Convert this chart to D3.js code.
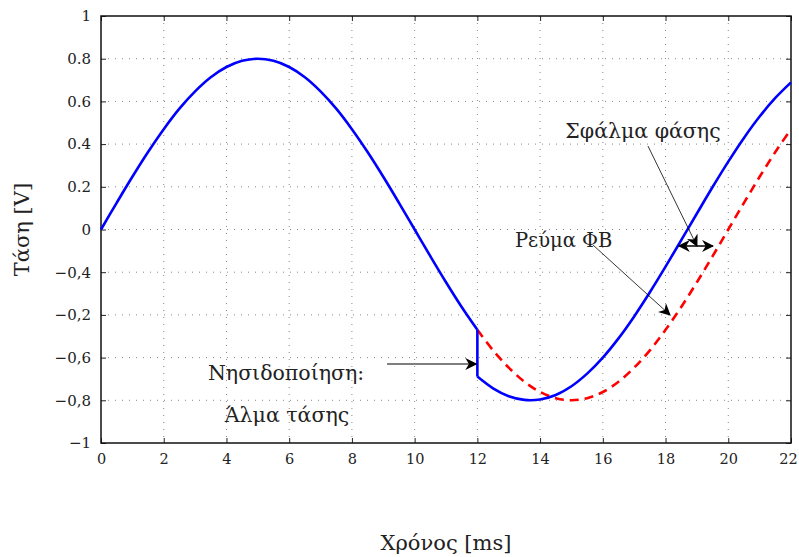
<!DOCTYPE html>
<html>
<head>
<meta charset="utf-8">
<script src="https://cdn.jsdelivr.net/npm/d3@7"></script>
<style>
  body { margin: 0; background: #fff; }
</style>
</head>
<body>
<div id="chart"></div>
<script>
// time axis (ms), sampled every 0.5 ms
const tBefore = [0, 0.5, 1, 1.5, 2, 2.5, 3, 3.5, 4, 4.5, 5, 5.5, 6, 6.5, 7, 7.5, 8, 8.5, 9, 9.5, 10, 10.5, 11, 11.5, 12];
const vBefore = [0, 0.125, 0.247, 0.363, 0.470, 0.566, 0.647, 0.713, 0.761, 0.790, 0.8, 0.790, 0.761, 0.713, 0.647, 0.566, 0.470, 0.363, 0.247, 0.125, 0, -0.125, -0.247, -0.363, -0.470];

const tAfter = [12, 12.5, 13, 13.5, 14, 14.5, 15, 15.5, 16, 16.5, 17, 17.5, 18, 18.5, 19, 19.5, 20, 20.5, 21, 21.5, 22];
// voltage after islanding (jump, phase shifted)
const vAfter = [-0.689, -0.744, -0.781, -0.798, -0.796, -0.775, -0.734, -0.675, -0.600, -0.510, -0.407, -0.294, -0.174, -0.050, 0.075, 0.199, 0.318, 0.429, 0.529, 0.616, 0.689];
// PV current (continues the original waveform)
const iPV = [-0.470, -0.566, -0.647, -0.713, -0.761, -0.790, -0.8, -0.790, -0.761, -0.713, -0.647, -0.566, -0.470, -0.363, -0.247, -0.125, 0, 0.125, 0.247, 0.363, 0.470];

const xTicks = [0, 2, 4, 6, 8, 10, 12, 14, 16, 18, 20, 22];
const yTicks = [1, 0.8, 0.6, 0.4, 0.2, 0, -0.2, -0.4, -0.6, -0.8, -1];
const yTickLabels = ["1", "0.8", "0.6", "0.4", "0.2", "0", "\u22120,4", "\u22120,2", "\u22120,6", "\u22120,8", "\u22121"];

const FONT = "'DejaVu Serif', 'Liberation Serif', serif";

const margin = { top: 16, right: 8, bottom: 114, left: 101 },
    width = 799 - margin.left - margin.right,
    height = 557 - margin.top - margin.bottom;

const svg = d3.select("#chart")
    .append("svg")
    .attr("width", 799)
    .attr("height", 557)
    .append("g")
    .attr("transform", "translate(" + margin.left + "," + margin.top + ")");

const x = d3.scaleLinear().domain([0, 22]).range([0, width]);
const y = d3.scaleLinear().domain([-1, 1]).range([height, 0]);

// grid
svg.append("g").selectAll("line")
    .data(xTicks.slice(1, -1))
    .enter().append("line")
    .attr("x1", d => x(d)).attr("x2", d => x(d))
    .attr("y1", 0).attr("y2", height)
    .attr("stroke", "#888").attr("stroke-width", 1)
    .attr("stroke-dasharray", "1,6");
svg.append("g").selectAll("line")
    .data(yTicks.slice(1, -1))
    .enter().append("line")
    .attr("y1", d => y(d)).attr("y2", d => y(d))
    .attr("x1", 0).attr("x2", width)
    .attr("stroke", "#888").attr("stroke-width", 1)
    .attr("stroke-dasharray", "1,6");

// axes (ticks inward)
svg.append("g")
    .attr("transform", "translate(0," + height + ")")
    .call(d3.axisBottom(x).tickValues(xTicks).tickSize(-5).tickPadding(11).tickFormat(d3.format("d")))
    .call(g => g.select(".domain").remove())
    .call(g => g.selectAll("text").attr("font-size", 14.5).attr("dy", "0.71em"))
    .call(g => g.selectAll("text").filter(d => d === 22).attr("dx", -3));
svg.append("g")
    .call(d3.axisTop(x).tickValues(xTicks).tickSize(-5).tickFormat(""))
    .call(g => g.select(".domain").remove());
svg.append("g")
    .call(d3.axisLeft(y).tickValues(yTicks).tickSize(-5).tickPadding(10)
        .tickFormat((d, i) => yTickLabels[i]))
    .call(g => g.select(".domain").remove())
    .call(g => g.selectAll("text").attr("font-size", 15));
svg.append("g")
    .attr("transform", "translate(" + width + ",0)")
    .call(d3.axisRight(y).tickValues(yTicks).tickSize(-5).tickFormat(""))
    .call(g => g.select(".domain").remove());

svg.selectAll(".tick line").attr("stroke", "#222");

// frame
svg.append("rect")
    .attr("width", width).attr("height", height)
    .attr("fill", "none").attr("stroke", "#111").attr("stroke-width", 1.5);

const line = d3.line()
    .x(d => x(d[0]))
    .y(d => y(d[1]))
    .curve(d3.curveCatmullRom);

// red dashed: PV current
svg.append("path")
    .datum(tAfter.map((t, i) => [t, iPV[i]]))
    .attr("d", line)
    .attr("fill", "none")
    .attr("stroke", "#f00")
    .attr("stroke-width", 2.6)
    .attr("stroke-dasharray", "9,6");

// blue: voltage
svg.append("path")
    .datum(tBefore.map((t, i) => [t, vBefore[i]]))
    .attr("d", line)
    .attr("fill", "none")
    .attr("stroke", "#00f")
    .attr("stroke-width", 2.6);
svg.append("path")
    .datum([[12, vBefore[vBefore.length - 1]], [12, vAfter[0]]])
    .attr("d", d3.line().x(d => x(d[0])).y(d => y(d[1])))
    .attr("fill", "none")
    .attr("stroke", "#00f")
    .attr("stroke-width", 2.6);
svg.append("path")
    .datum(tAfter.map((t, i) => [t, vAfter[i]]))
    .attr("d", line)
    .attr("fill", "none")
    .attr("stroke", "#00f")
    .attr("stroke-width", 2.6);

// arrow marker
const defs = d3.select("svg").append("defs");
defs.append("marker")
    .attr("id", "arr")
    .attr("viewBox", "0 0 10 10")
    .attr("refX", 9).attr("refY", 5)
    .attr("markerWidth", 12).attr("markerHeight", 12)
    .attr("markerUnits", "userSpaceOnUse")
    .attr("orient", "auto-start-reverse")
    .append("path")
    .attr("d", "M0,0 L10,5 L0,10 L3,5 Z")
    .attr("fill", "#000");

function arrow(x1, y1, x2, y2, w, start) {
    const l = svg.append("line")
        .attr("x1", x(x1)).attr("y1", y(y1))
        .attr("x2", x(x2)).attr("y2", y(y2))
        .attr("stroke", "#000").attr("stroke-width", w)
        .attr("marker-end", "url(#arr)");
    if (start) l.attr("marker-start", "url(#arr)");
}

// annotations
arrow(17.44, 0.391, 19.0, -0.077, 0.8, false);
arrow(18.43, -0.077, 19.51, -0.077, 1.6, true);
arrow(15.69, -0.073, 18.14, -0.40, 0.8, false);
arrow(9.12, -0.63, 11.96, -0.63, 1.2, false);

svg.append("text").attr("x", x(17.28)).attr("y", y(0.43))
    .attr("text-anchor", "middle").attr("font-size", 20.5).text("Σφάλμα φάσης");
svg.append("text").attr("x", x(13.2)).attr("y", y(-0.082))
    .attr("font-size", 19.5).text("Ρεύμα ΦΒ");
svg.append("text").attr("x", x(5.9)).attr("y", y(-0.705))
    .attr("text-anchor", "middle").attr("font-size", 20.5).text("Νησιδοποίηση:");
svg.append("text").attr("x", x(5.93)).attr("y", y(-0.90))
    .attr("text-anchor", "middle").attr("font-size", 20.5).text("Άλμα τάσης");

// axis labels
svg.append("text")
    .attr("x", width / 2).attr("y", height + 107)
    .attr("text-anchor", "middle").attr("font-size", 21)
    .text("Χρόνος [ms]");
svg.append("text")
    .attr("transform", "translate(" + (-72) + "," + (height / 2) + ") rotate(-90)")
    .attr("text-anchor", "middle").attr("font-size", 21)
    .text("Τάση [V]");

d3.selectAll("text").style("font-family", FONT).style("fill", "#222");
</script>
</body>
</html>
